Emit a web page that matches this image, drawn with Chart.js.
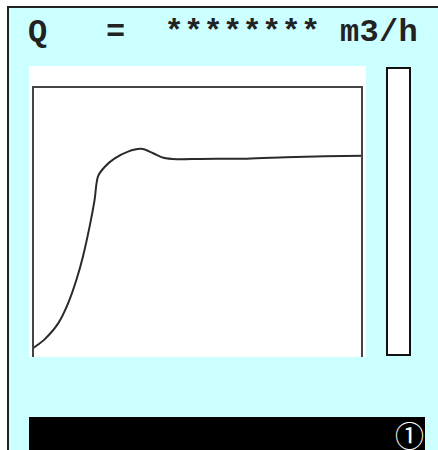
<!DOCTYPE html>
<html>
<head>
<meta charset="utf-8">
<script src="https://cdn.jsdelivr.net/npm/chart.js@4/dist/chart.umd.min.js"></script>
<style>
  html, body { margin: 0; padding: 0; background: #fff; width: 438px; height: 450px; overflow: hidden; }
  .panel {
    position: absolute; left: 7px; top: 6px; width: 520px; height: 520px;
    background: #ccffff; border: 2px solid #222;
  }
  .title {
    position: absolute; left: 28px; top: 15px; white-space: pre;
    font-family: "Liberation Mono", "Courier New", monospace; font-weight: bold;
    font-size: 32px; line-height: 36px; letter-spacing: 0.3px; color: #222;
  }
  #trend { position: absolute; left: 29px; top: 66px; }
  .gauge {
    position: absolute; left: 386px; top: 67px; width: 21px; height: 285px;
    background: #fff; border: 2px solid #111;
  }
  .footer {
    position: absolute; left: 29px; top: 417px; width: 396px; height: 40px; background: #000;
  }
  .footer span {
    position: absolute; right: 1px; top: 0px; color: #fff;
    font-family: "Noto Sans CJK JP", "DejaVu Sans", sans-serif; font-size: 29px; line-height: 34px;
  }
</style>
</head>
<body>
<div class="panel"></div>
<div class="title">Q   =  ******** m3/h</div>
<canvas id="trend" width="337" height="291"></canvas>
<div class="gauge"></div>
<div class="footer"><span>&#9312;</span></div>

<script>
// flow trend (time in %, flow in % of full scale)
const timePct = [0, 3.8, 7.9, 10.9, 13.4, 15.4, 17.4, 18.9, 19.9, 22.0, 25.0, 29.0, 33.0, 36.6, 39.7, 43.7, 50.8, 64.9, 76.7, 88.5, 100]
const flowPct = [3.0, 6.5, 12.4, 19.8, 28.4, 37.1, 48.1, 57.9, 66.5, 70.2, 73.3, 75.8, 76.8, 75.2, 73.5, 73.0, 73.1, 73.2, 73.7, 74.1, 74.3]

// draws the open-bottom frame around the plot area
const frame = {
  id: 'frame',
  beforeDraw(chart) {
    const { ctx, width, height } = chart
    ctx.save()
    ctx.fillStyle = '#fff'
    ctx.fillRect(0, 0, width, height)
    ctx.restore()
  },
  afterDraw(chart) {
    const { ctx, chartArea: a } = chart
    ctx.save()
    ctx.strokeStyle = '#444'
    ctx.lineWidth = 2
    ctx.beginPath()
    ctx.moveTo(a.left + 1, a.bottom)
    ctx.lineTo(a.left + 1, a.top + 1)
    ctx.lineTo(a.right - 1, a.top + 1)
    ctx.lineTo(a.right - 1, a.bottom)
    ctx.stroke()
    ctx.restore()
  }
}

new Chart(document.getElementById('trend'), {
  type: 'line',
  data: {
    datasets: [{
      data: timePct.map((t, i) => ({ x: t, y: flowPct[i] })),
      borderColor: '#2a2a2a',
      borderWidth: 2,
      pointRadius: 0,
      tension: 0.3,
      fill: false
    }]
  },
  options: {
    responsive: false,
    animation: false,
    layout: { padding: { left: 3, right: 3, top: 20, bottom: 0 } },
    plugins: { legend: { display: false }, tooltip: { enabled: false } },
    scales: {
      x: { type: 'linear', min: 0, max: 100, display: false },
      y: { min: 0, max: 100, display: false }
    }
  },
  plugins: [frame]
})
</script>
</body>
</html>
